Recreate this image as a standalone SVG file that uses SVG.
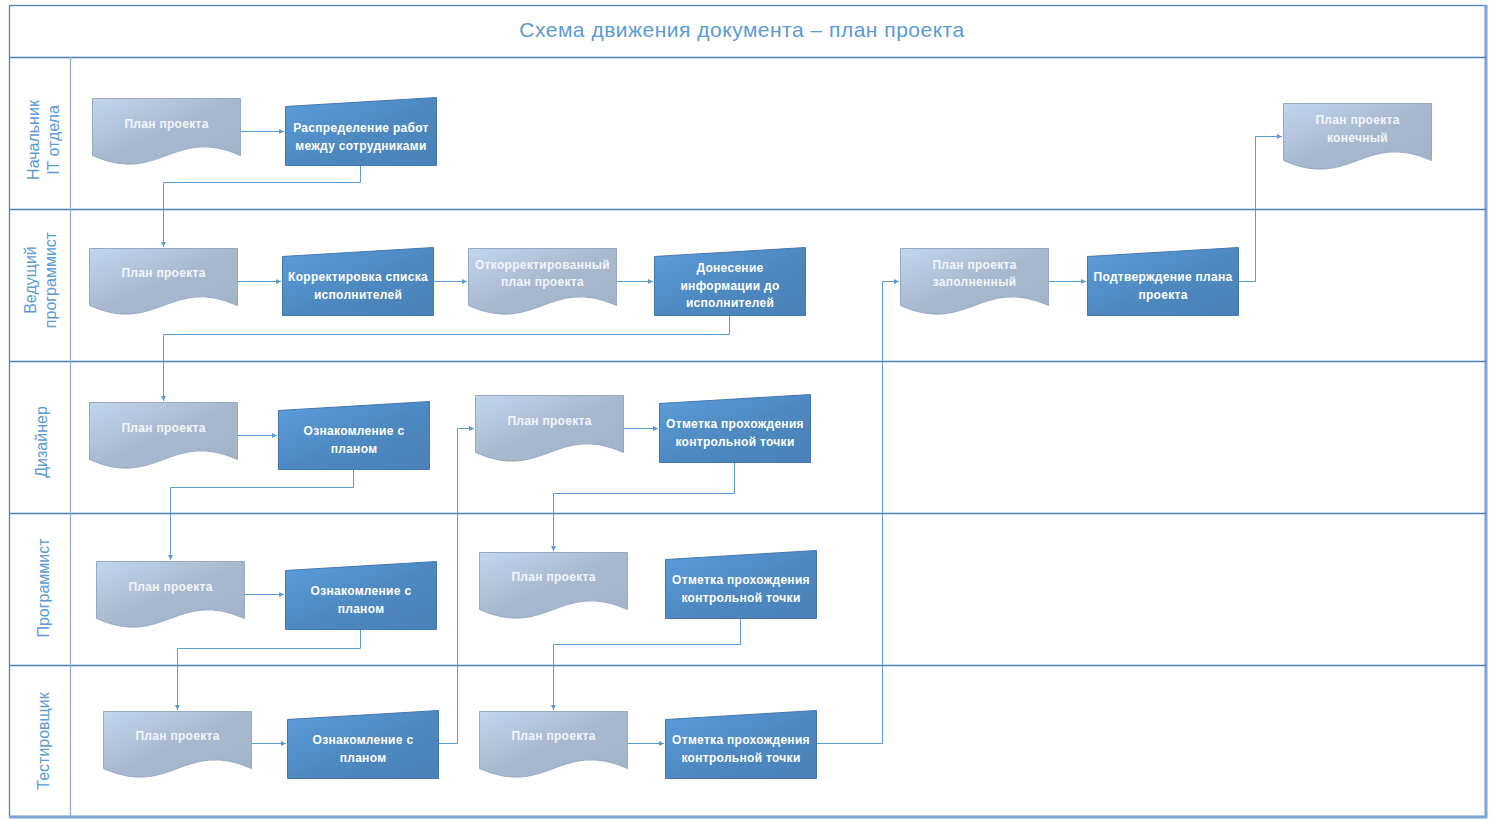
<svg xmlns="http://www.w3.org/2000/svg" width="1494" height="820" viewBox="0 0 1494 820">
<style>
.frame{fill:none;stroke:#4f81bd;stroke-width:1.3}
.edge{fill:none;stroke:#7da5d3;stroke-width:3}
.col{fill:none;stroke:#8db3e2;stroke-width:1.3}
.title{font-family:"Liberation Sans",Arial,sans-serif;font-size:21px;fill:#5b9bd5;text-anchor:middle;letter-spacing:0.5px}
.lane{font-family:"Liberation Sans",Arial,sans-serif;font-size:16px;fill:#5b9bd5;text-anchor:middle;dominant-baseline:central}
.doc{fill:url(#gDoc);stroke:#97a9c2;stroke-width:1}
.proc{fill:url(#gProc);stroke:#4677ab;stroke-width:1}
.t{font-family:"Liberation Sans",Arial,sans-serif;font-size:12px;font-weight:bold;fill:#ffffff;text-anchor:middle;letter-spacing:0.3px}
.dt{fill:#f2f6fb}
.c{fill:none;stroke:#5b9bd5;stroke-width:1;marker-end:url(#arr)}
</style>
<defs>
<linearGradient id="gDoc" x1="0" y1="0" x2="1" y2="1">
<stop offset="0" stop-color="#c3d6ee"/>
<stop offset="0.5" stop-color="#a8b8cf"/>
<stop offset="1" stop-color="#a2b2c9"/>
</linearGradient>
<linearGradient id="gProc" x1="0" y1="0" x2="1" y2="1">
<stop offset="0" stop-color="#5c9ddb"/>
<stop offset="0.55" stop-color="#4d88c0"/>
<stop offset="1" stop-color="#4a82b8"/>
</linearGradient>
<path id="docShape" d="M0,0 H148 V57 C81,27 67,87 0,57 Z"/>
<polygon id="procShape" points="0,9 151,0 151,68 0,68"/>
<marker id="arr" markerUnits="userSpaceOnUse" markerWidth="6" markerHeight="6" refX="5" refY="2.5" orient="auto">
<path d="M0,0 L5,2.5 L0,5 Z" fill="#5b9bd5"/>
</marker>
</defs>
<rect width="1494" height="820" fill="#ffffff"/>
<g id="frame">
<rect class="frame" x="9.5" y="5.5" width="1476" height="811"/>
<line class="edge" x1="1486" y1="5" x2="1486" y2="818"/>
<line class="edge" x1="9" y1="817" x2="1487" y2="817"/>
<line class="frame" x1="9" y1="57.5" x2="1486" y2="57.5"/>
<line class="frame" x1="9" y1="209.5" x2="1486" y2="209.5"/>
<line class="frame" x1="9" y1="361.5" x2="1486" y2="361.5"/>
<line class="frame" x1="9" y1="513.5" x2="1486" y2="513.5"/>
<line class="frame" x1="9" y1="665.5" x2="1486" y2="665.5"/>
<line class="col" x1="70.5" y1="57" x2="70.5" y2="816"/>
<text class="title" x="742" y="37">Схема движения документа – план проекта</text>
</g>
<g id="lanes">
<text class="lane" transform="translate(33,140) rotate(-90)">Начальник</text>
<text class="lane" transform="translate(53,140) rotate(-90)">IT отдела</text>
<text class="lane" transform="translate(30,280) rotate(-90)">Ведущий</text>
<text class="lane" transform="translate(50,280) rotate(-90)">программист</text>
<text class="lane" transform="translate(41,442) rotate(-90)">Дизайнер</text>
<text class="lane" transform="translate(43,588) rotate(-90)">Программист</text>
<text class="lane" transform="translate(43,741) rotate(-90)">Тестировщик</text>
</g>
<g id="connectors">
<path class="c" d="M240,131.5 H284"/>
<path class="c" d="M360.5,165 V182.5 H163.5 V247"/>
<path class="c" d="M237,281.5 H281"/>
<path class="c" d="M433,281.5 H467"/>
<path class="c" d="M616,281.5 H653"/>
<path class="c" d="M729.5,315 V334.5 H163.5 V401"/>
<path class="c" d="M237,435.5 H277"/>
<path class="c" d="M353.5,469 V487.5 H170.5 V560"/>
<path class="c" d="M244,594.5 H284"/>
<path class="c" d="M360.5,629 V648.5 H177.5 V710"/>
<path class="c" d="M251,743.5 H286"/>
<path class="c" d="M438,743.5 H457.5 V428.5 H474"/>
<path class="c" d="M623,428.5 H658"/>
<path class="c" d="M734.5,462 V493.5 H553.5 V551"/>
<path class="c" d="M740.5,618 V644.5 H553.5 V710"/>
<path class="c" d="M627,743.5 H664"/>
<path class="c" d="M816,743.5 H882.5 V281.5 H899"/>
<path class="c" d="M1048,281.5 H1086"/>
<path class="c" d="M1238,281.5 H1255.5 V136.5 H1282"/>
</g>
<g id="d1" transform="translate(92.5,98.5)"><use href="#docShape" class="doc"/><text class="t dt" x="74" y="29">План проекта</text></g>
<g id="p1" transform="translate(285.5,97.5)"><use href="#procShape" class="proc"/><text class="t" x="75.5" y="34">Распределение работ</text><text class="t" x="75.5" y="52">между сотрудниками</text></g>
<g id="dFinal" transform="translate(1283.5,103.5)"><use href="#docShape" class="doc"/><text class="t dt" x="74" y="20">План проекта</text><text class="t dt" x="74" y="38">конечный</text></g>
<g id="d2" transform="translate(89.5,248.5)"><use href="#docShape" class="doc"/><text class="t dt" x="74" y="28">План проекта</text></g>
<g id="p2" transform="translate(282.5,247.5)"><use href="#procShape" class="proc"/><text class="t" x="75.5" y="33">Корректировка списка</text><text class="t" x="75.5" y="51">исполнителей</text></g>
<g id="d3" transform="translate(468.5,248.5)"><use href="#docShape" class="doc"/><text class="t dt" x="74" y="20">Откорректированный</text><text class="t dt" x="74" y="37">план проекта</text></g>
<g id="p3" transform="translate(654.5,247.5)"><use href="#procShape" class="proc"/><text class="t" x="75.5" y="24">Донесение</text><text class="t" x="75.5" y="42">информации до</text><text class="t" x="75.5" y="59">исполнителей</text></g>
<g id="d4" transform="translate(900.5,248.5)"><use href="#docShape" class="doc"/><text class="t dt" x="74" y="20">План проекта</text><text class="t dt" x="74" y="37">заполненный</text></g>
<g id="p4" transform="translate(1087.5,247.5)"><use href="#procShape" class="proc"/><text class="t" x="75.5" y="33">Подтверждение плана</text><text class="t" x="75.5" y="51">проекта</text></g>
<g id="d5" transform="translate(89.5,402.5)"><use href="#docShape" class="doc"/><text class="t dt" x="74" y="29">План проекта</text></g>
<g id="p5" transform="translate(278.5,401.5)"><use href="#procShape" class="proc"/><text class="t" x="75.5" y="33">Ознакомление с</text><text class="t" x="75.5" y="51">планом</text></g>
<g id="d6" transform="translate(475.5,395.5)"><use href="#docShape" class="doc"/><text class="t dt" x="74" y="29">План проекта</text></g>
<g id="p6" transform="translate(659.5,394.5)"><use href="#procShape" class="proc"/><text class="t" x="75.5" y="33">Отметка прохождения</text><text class="t" x="75.5" y="51">контрольной точки</text></g>
<g id="d7" transform="translate(96.5,561.5)"><use href="#docShape" class="doc"/><text class="t dt" x="74" y="29">План проекта</text></g>
<g id="p7" transform="translate(285.5,561.5)"><use href="#procShape" class="proc"/><text class="t" x="75.5" y="33">Ознакомление с</text><text class="t" x="75.5" y="51">планом</text></g>
<g id="d8" transform="translate(479.5,552.5)"><use href="#docShape" class="doc"/><text class="t dt" x="74" y="28">План проекта</text></g>
<g id="p8" transform="translate(665.5,550.5)"><use href="#procShape" class="proc"/><text class="t" x="75.5" y="33">Отметка прохождения</text><text class="t" x="75.5" y="51">контрольной точки</text></g>
<g id="d9" transform="translate(103.5,711.5)"><use href="#docShape" class="doc"/><text class="t dt" x="74" y="28">План проекта</text></g>
<g id="p9" transform="translate(287.5,710.5)"><use href="#procShape" class="proc"/><text class="t" x="75.5" y="33">Ознакомление с</text><text class="t" x="75.5" y="51">планом</text></g>
<g id="d10" transform="translate(479.5,711.5)"><use href="#docShape" class="doc"/><text class="t dt" x="74" y="28">План проекта</text></g>
<g id="p10" transform="translate(665.5,710.5)"><use href="#procShape" class="proc"/><text class="t" x="75.5" y="33">Отметка прохождения</text><text class="t" x="75.5" y="51">контрольной точки</text></g>
</svg>
